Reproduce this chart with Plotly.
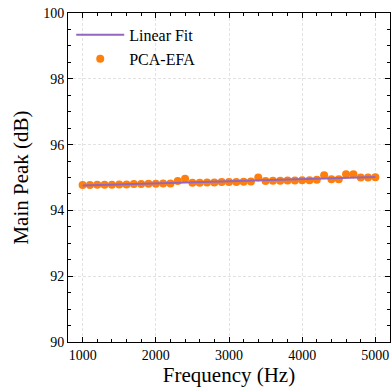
import numpy as np
import plotly.graph_objects as go

freq = list(range(1000, 5001, 100))
peak = [94.77, 94.77, 94.78, 94.78, 94.78, 94.79, 94.79, 94.80, 94.80, 94.81,
        94.81, 94.82, 94.82, 94.89, 94.96, 94.84, 94.84, 94.85, 94.85, 94.86,
        94.86, 94.86, 94.87, 94.88, 95.00, 94.89, 94.90, 94.90, 94.91, 94.91,
        94.92, 94.92, 94.93, 95.07, 94.95, 94.95, 95.10, 95.10, 95.00, 95.00,
        95.01]

coef = np.polyfit(freq, peak, 1)
fit = np.polyval(coef, freq)

font = "Liberation Serif, serif"
fig = go.Figure()
fig.add_trace(go.Scatter(x=freq, y=peak, mode="markers", name="PCA-EFA", legendrank=2,
                         marker=dict(color="#ff7f0e", size=8)))
fig.add_trace(go.Scatter(x=freq, y=fit, mode="lines", name="Linear Fit", legendrank=1,
                         line=dict(color="#9467bd", width=2)))

axis_common = dict(showline=True, linecolor="black", linewidth=1, mirror="allticks",
                   ticks="inside", ticklen=5, tickcolor="black",
                   showgrid=True, gridcolor="#e2e2e2", griddash="3px,2px", gridwidth=1,
                   zeroline=False, tickfont=dict(family=font, size=14, color="black"))

fig.update_layout(
    width=392, height=391,
    font=dict(family=font, color="black"),
    margin=dict(l=68, r=2, t=13, b=49),
    paper_bgcolor="white", plot_bgcolor="white",
    showlegend=True,
    legend=dict(x=0.01, y=0.985, xanchor="left", yanchor="top", itemwidth=48,
                font=dict(family=font, size=16, color="black"),
                bgcolor="rgba(0,0,0,0)", tracegroupgap=0),
    xaxis=dict(range=[800, 5200], tickvals=[1000, 2000, 3000, 4000, 5000],
               minor=dict(dtick=200, tick0=0, ticks="inside", ticklen=3, tickcolor="black", showgrid=False),
               title=dict(text="Frequency (Hz)", font=dict(family=font, size=21, color="black"), standoff=5),
               **axis_common),
    yaxis=dict(range=[90, 100], tickvals=[90, 92, 94, 96, 98, 100],
               minor=dict(dtick=0.5, tick0=0, ticks="inside", ticklen=3, tickcolor="black", showgrid=False),
               title=dict(text="Main Peak (dB)", font=dict(family=font, size=21, color="black"), standoff=8),
               **axis_common),
)
fig.write_html("out.html")
